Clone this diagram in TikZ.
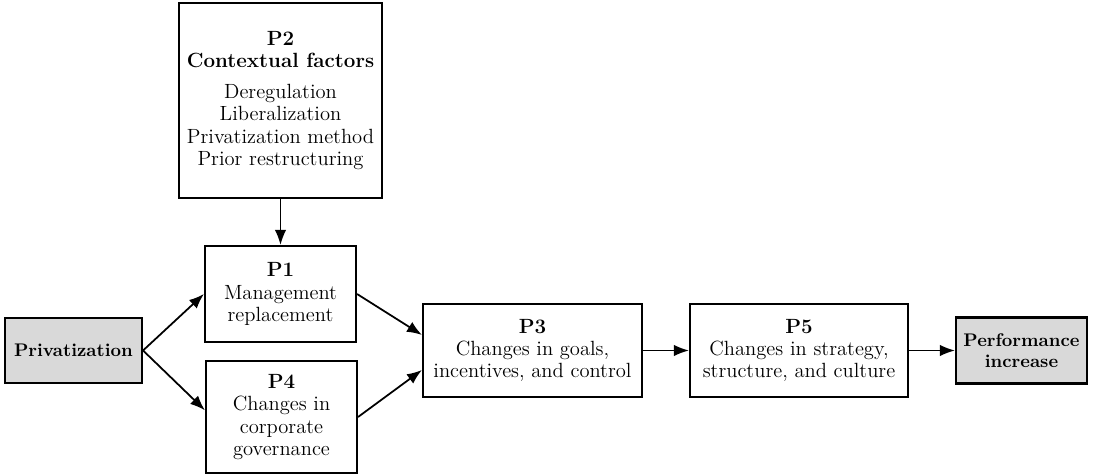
\documentclass[tikz,border=0pt]{standalone}
\usetikzlibrary{arrows.meta}

\begin{document}
\begin{tikzpicture}[line width=1pt,>={Latex[length=3mm,width=2.3mm]},
  box/.style={draw,line width=1.2pt,align=center,inner sep=2pt,font=\fontsize{11.7}{12.6}\selectfont},
  greybox/.style={box,fill=gray!30,font=\fontsize{10.4}{11.8}\selectfont\bfseries}]
  \useasboundingbox (0,0) rectangle (21.88,9.5);
  \node[box,minimum width=4.06cm,minimum height=3.90cm] (P2) at (5.61,7.49)
    {\textbf{P2}\\\textbf{Contextual factors}\\[5pt]Deregulation\\Liberalization\\Privatization method\\Prior restructuring};
  \node[box,minimum width=3.02cm,minimum height=1.92cm] (P1) at (5.61,3.62)
    {\textbf{P1}\\Management\\replacement};
  \node[box,minimum width=3.02cm,minimum height=2.24cm] (P4) at (5.63,1.16)
    {\textbf{P4}\\Changes in\\corporate\\governance};
  \node[greybox,minimum width=2.74cm,minimum height=1.30cm] (priv) at (1.47,2.49)
    {Privatization};
  \node[box,minimum width=4.38cm,minimum height=1.86cm] (P3) at (10.65,2.49)
    {\textbf{P3}\\Changes in goals,\\incentives, and control};
  \node[box,minimum width=4.36cm,minimum height=1.86cm] (P5) at (15.98,2.49)
    {\textbf{P5}\\Changes in strategy,\\structure, and culture};
  \node[greybox,minimum width=2.62cm,minimum height=1.32cm] (perf) at (20.43,2.49)
    {Performance\\increase};
  \draw[->] (P2.south)--(P1.north);
  \draw[->] (priv.east)--(P1.west);
  \draw[->] (priv.east)--(P4.175);
  \draw[->] (P1.east)--(P3.172);
  \draw[->] (P4.east)--(P3.190);
  \draw[->] (P3.east)--(P5.west);
  \draw[->] (P5.east)--(perf.west);
\end{tikzpicture}
\end{document}
